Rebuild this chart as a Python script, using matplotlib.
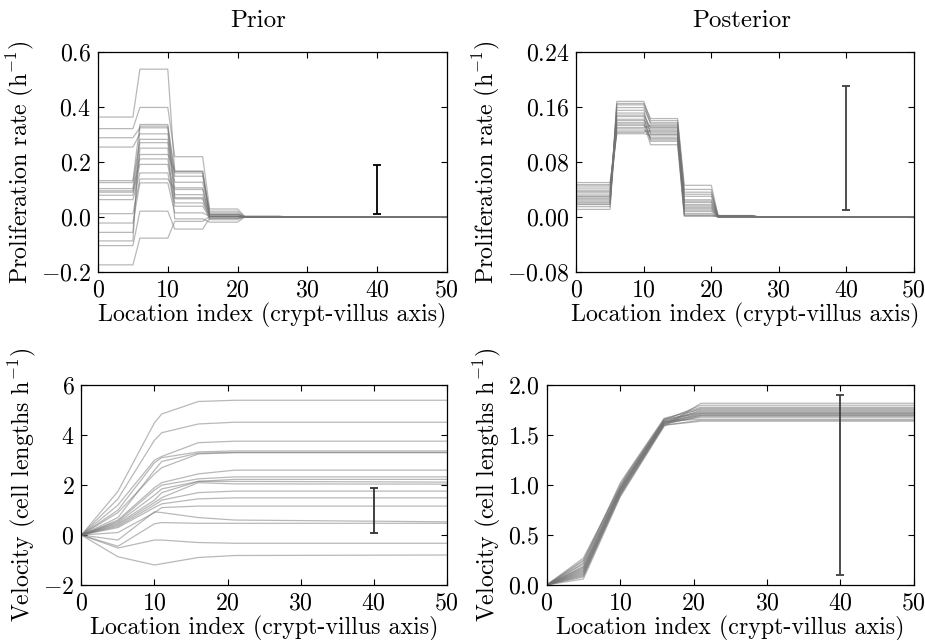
import numpy as np
import matplotlib

matplotlib.use("Agg")
import matplotlib.pyplot as plt

plt.rcParams["font.family"] = "cmr10"
plt.rcParams["mathtext.fontset"] = "cm"
plt.rcParams["axes.formatter.use_mathtext"] = True
plt.rcParams["axes.unicode_minus"] = True
plt.rcParams["font.size"] = 17.2
for ax_name in ("xtick", "ytick"):
    plt.rcParams[f"{ax_name}.direction"] = "in"
    plt.rcParams[f"{ax_name}.major.size"] = 4
    plt.rcParams[f"{ax_name}.major.width"] = 0.8
    plt.rcParams[f"{ax_name}.major.pad"] = 5
plt.rcParams["xtick.top"] = True
plt.rcParams["ytick.right"] = True

# zone edges of the piecewise-constant proliferation profile
zone_x = [0, 5, 6, 10, 11, 15, 16, 20, 21, 26, 27, 50]
# locations where velocity samples were taken
vel_x = [0, 5, 10, 11, 16, 21, 50]

# prior samples: proliferation level in zones 1..5 (h^-1)
prior_rates = [
    [0.363, 0.537, 0.166, 0.010, 0.002],
    [0.321, 0.398, 0.219, 0.029, 0.003],
    [0.288, 0.324, 0.148, 0.021, 0.001],
    [0.254, 0.302, 0.126, 0.015, 0.000],
    [0.132, 0.336, 0.160, 0.002, 0.001],
    [0.125, 0.282, 0.106, -0.004, 0.000],
    [0.103, 0.270, 0.081, 0.009, -0.001],
    [0.095, 0.227, 0.166, 0.002, 0.001],
    [0.090, 0.211, 0.066, -0.010, 0.000],
    [0.079, 0.191, 0.051, 0.004, 0.000],
    [0.063, 0.160, 0.039, -0.004, 0.001],
    [0.012, 0.138, 0.100, 0.009, 0.000],
    [-0.022, 0.124, 0.015, 0.002, 0.000],
    [-0.056, 0.250, -0.007, -0.019, -0.001],
    [-0.087, 0.330, 0.070, 0.002, 0.000],
    [-0.104, 0.021, -0.044, -0.004, 0.000],
    [-0.174, -0.077, -0.016, 0.002, 0.000],
]

# posterior samples: proliferation level in zones 1..5 (h^-1)
post_rates = [
    [0.050, 0.123, 0.126, 0.003, 0.001],
    [0.047, 0.130, 0.133, 0.012, 0.002],
    [0.045, 0.121, 0.119, 0.016, 0.000],
    [0.042, 0.140, 0.131, 0.021, 0.001],
    [0.039, 0.125, 0.124, 0.010, 0.000],
    [0.037, 0.148, 0.130, 0.018, 0.001],
    [0.035, 0.133, 0.128, 0.014, 0.000],
    [0.032, 0.155, 0.122, 0.025, 0.002],
    [0.030, 0.128, 0.116, 0.008, 0.000],
    [0.029, 0.151, 0.120, 0.023, 0.001],
    [0.027, 0.142, 0.114, 0.030, 0.000],
    [0.025, 0.137, 0.112, 0.005, 0.000],
    [0.023, 0.163, 0.135, 0.033, 0.002],
    [0.021, 0.146, 0.110, 0.001, 0.001],
    [0.019, 0.159, 0.137, 0.040, 0.000],
    [0.018, 0.135, 0.105, 0.002, 0.000],
    [0.015, 0.168, 0.140, 0.036, 0.001],
    [0.011, 0.165, 0.143, 0.046, 0.002],
]

# prior velocity samples at vel_x (cell lengths h^-1)
prior_vel = [
    [0, 1.75, 4.50, 4.85, 5.35, 5.40, 5.40],
    [0, 1.45, 3.80, 4.10, 4.45, 4.52, 4.52],
    [0, 1.20, 3.00, 3.15, 3.70, 3.76, 3.76],
    [0, 1.00, 2.90, 3.10, 3.33, 3.37, 3.37],
    [0, 0.70, 2.60, 2.95, 3.28, 3.31, 3.31],
    [0, 0.90, 2.45, 2.70, 3.25, 3.30, 3.30],
    [0, 0.60, 1.90, 2.10, 2.45, 2.60, 2.60],
    [0, 0.55, 1.80, 2.00, 2.25, 2.33, 2.33],
    [0, 0.50, 1.60, 1.85, 2.15, 2.23, 2.23],
    [0, 0.45, 1.40, 1.70, 2.15, 2.15, 2.12],
    [0, 0.40, 1.30, 1.50, 2.10, 2.05, 2.04],
    [0, 0.35, 1.20, 1.40, 1.70, 1.76, 1.76],
    [0, 0.30, 1.10, 1.25, 1.45, 1.49, 1.49],
    [0, 0.10, 0.90, 1.10, 1.16, 1.16, 1.16],
    [0, -0.20, 0.93, 0.90, 0.70, 0.60, 0.53],
    [0, -0.45, 0.45, 0.50, 0.47, 0.47, 0.47],
    [0, -0.52, -0.20, -0.20, -0.30, -0.33, -0.33],
    [0, -0.87, -1.20, -1.15, -0.90, -0.82, -0.80],
]

# posterior velocity samples at vel_x (cell lengths h^-1)
post_vel = [
    [0, 0.27, 0.98, 1.10, 1.64, 1.66, 1.66],
    [0, 0.25, 1.00, 1.12, 1.66, 1.72, 1.72],
    [0, 0.24, 0.96, 1.08, 1.63, 1.70, 1.70],
    [0, 0.22, 1.02, 1.13, 1.67, 1.76, 1.76],
    [0, 0.21, 0.95, 1.07, 1.62, 1.68, 1.68],
    [0, 0.19, 0.99, 1.11, 1.65, 1.74, 1.74],
    [0, 0.18, 0.94, 1.06, 1.63, 1.71, 1.71],
    [0, 0.17, 0.97, 1.09, 1.66, 1.78, 1.78],
    [0, 0.16, 0.92, 1.04, 1.61, 1.69, 1.69],
    [0, 0.15, 0.96, 1.08, 1.64, 1.73, 1.73],
    [0, 0.14, 0.93, 1.05, 1.62, 1.75, 1.75],
    [0, 0.13, 0.91, 1.03, 1.60, 1.65, 1.65],
    [0, 0.12, 0.95, 1.07, 1.65, 1.80, 1.80],
    [0, 0.11, 0.90, 1.02, 1.61, 1.70, 1.70],
    [0, 0.10, 0.93, 1.05, 1.63, 1.77, 1.77],
    [0, 0.09, 0.89, 1.01, 1.60, 1.64, 1.64],
    [0, 0.08, 0.91, 1.03, 1.62, 1.72, 1.72],
    [0, 0.06, 0.88, 1.00, 1.59, 1.82, 1.82],
]

# reference error bars drawn at location 40 (centre, half-width)
err_x = 40
rate_err = (0.10, 0.09)
vel_err = (1.0, 0.9)

xlabel = "Location index (crypt-villus axis)"
rate_label = r"Proliferation rate (h$^{-1}$)"
vel_label = r"Velocity (cell lengths h$^{-1}$)"

line_kw = dict(color="0.45", alpha=0.5, linewidth=0.9)


def zone_profile(levels):
    # each zone level is held flat across its cells, then drops to zero
    return np.append(np.repeat(levels, 2), [0.0, 0.0])


def style_axis(ax, ylim, yticks, fmt):
    ax.set_xlim(0, 50)
    ax.set_xticks([0, 10, 20, 30, 40, 50])
    ax.set_ylim(*ylim)
    ax.set_yticks(yticks)
    ax.yaxis.set_major_formatter(matplotlib.ticker.FuncFormatter(
        lambda v, _: "$\\mathdefault{" + (fmt % v) + "}$"))
    ax.set_xlabel(xlabel, labelpad=1)
    for spine in ax.spines.values():
        spine.set_linewidth(0.9)


fig = plt.figure(figsize=(9.25, 6.4), dpi=100)
ax_tl = fig.add_axes([0.106, 0.575, 0.377, 0.344])
ax_tr = fig.add_axes([0.623, 0.575, 0.365, 0.344])
ax_bl = fig.add_axes([0.088, 0.086, 0.395, 0.312])
ax_br = fig.add_axes([0.591, 0.086, 0.397, 0.312])

for levels in prior_rates:
    ax_tl.plot(zone_x, zone_profile(levels), **line_kw)
ax_tl.errorbar(err_x, rate_err[0], yerr=rate_err[1], color="k",
               linewidth=1.3, capsize=3, capthick=1.3)
style_axis(ax_tl, (-0.2, 0.6), np.arange(-0.2, 0.61, 0.2), "%.1f")
ax_tl.set_ylabel(rate_label)
ax_tl.set_title("Prior", pad=18, fontsize=18, x=0.46)

for levels in post_rates:
    ax_tr.plot(zone_x, zone_profile(levels), **line_kw)
ax_tr.errorbar(err_x, rate_err[0], yerr=rate_err[1], color="0.25",
               linewidth=1.3, capsize=3, capthick=1.3)
style_axis(ax_tr, (-0.08, 0.24), np.arange(-0.08, 0.241, 0.08), "%.2f")
ax_tr.set_ylabel(rate_label)
ax_tr.set_title("Posterior", pad=18, fontsize=18, x=0.49)

for v in prior_vel:
    ax_bl.plot(vel_x, v, **line_kw)
ax_bl.errorbar(err_x, vel_err[0], yerr=vel_err[1], color="0.2",
               linewidth=1.3, capsize=3, capthick=1.3)
style_axis(ax_bl, (-2, 6), [-2, 0, 2, 4, 6], "%d")
ax_bl.set_ylabel(vel_label)

for v in post_vel:
    ax_br.plot(vel_x, v, **line_kw)
ax_br.errorbar(err_x, vel_err[0], yerr=vel_err[1], color="0.25",
               linewidth=1.3, capsize=3, capthick=1.3)
style_axis(ax_br, (0, 2), [0, 0.5, 1.0, 1.5, 2.0], "%.1f")
ax_br.set_ylabel(vel_label)

fig.savefig("out.png", dpi=100, facecolor="white")
